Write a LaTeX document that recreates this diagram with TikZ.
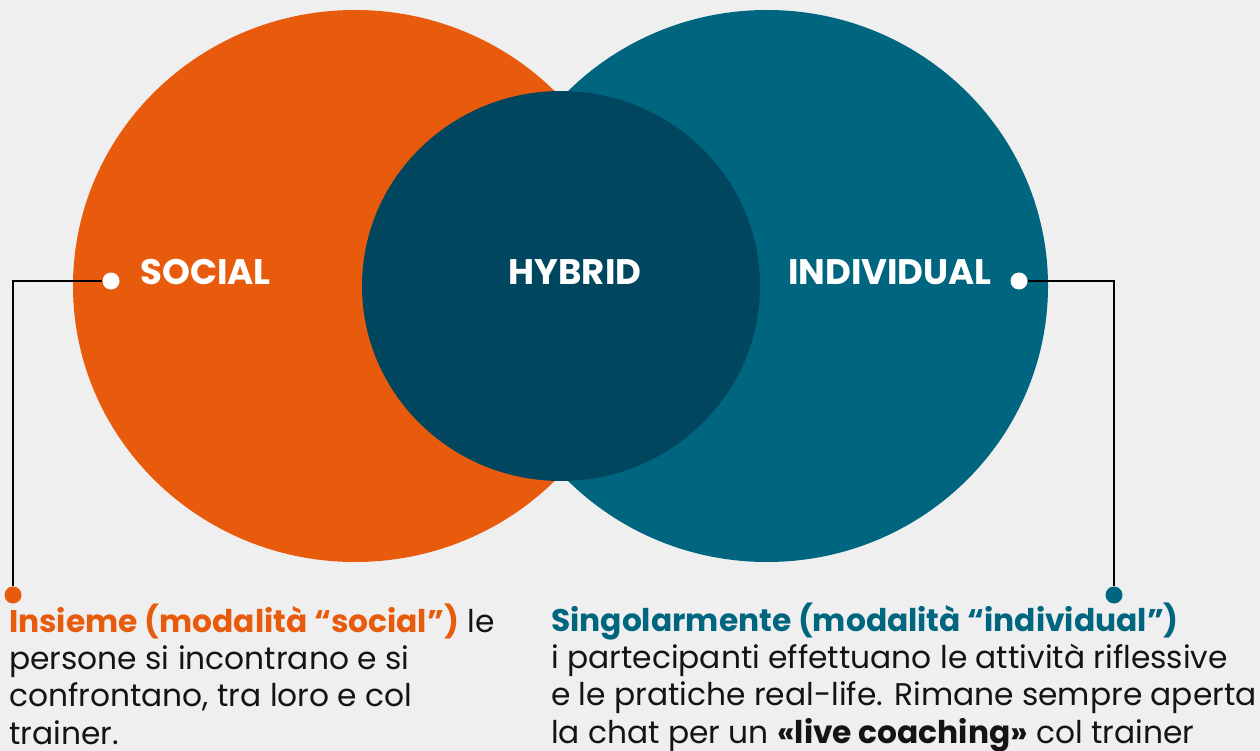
\documentclass[tikz,border=0pt]{standalone}
\usepackage{fontspec}
\setmainfont{Poppins}
\usetikzlibrary{positioning}
\usetikzlibrary{shapes.geometric}

\definecolor{socialorange}{HTML}{E95B0C}
\definecolor{indivteal}{HTML}{00667F}
\definecolor{hybridblue}{HTML}{00465F}
\definecolor{bggray}{HTML}{EFEFEF}
\definecolor{bodyblack}{HTML}{141414}

\tikzset{
  blob/.style={ellipse, inner sep=0pt, draw=none},
  tag/.style={text=white, font=\fontsize{35.5}{35.5}\selectfont\bfseries, inner sep=0pt, anchor=base},
  pin/.style={circle, inner sep=0pt, minimum size=17pt},
  leader/.style={black, line width=1.6pt},
  blurb/.style={text=bodyblack, font=\fontsize{31.3}{37.3}\selectfont, align=left, inner sep=0pt, anchor=base west}
}

\begin{document}
\begin{tikzpicture}[x=1pt,y=-1pt]
\fill[bggray] (0,0) rectangle (1260,751);
\useasboundingbox (0,0) rectangle (1260,751);

% the three circles
\node[blob, fill=socialorange, minimum width=564pt, minimum height=552pt] (social) at (355,286) {};
\node[blob, fill=indivteal, minimum width=562pt, minimum height=552pt] (indiv) at (767,286) {};
\node[blob, fill=hybridblue, minimum width=398pt, minimum height=390pt] (hybrid) at (561,286) {};

\node[tag] (socialtag) at (205.5,284.5) {SOCIAL};
\node[tag] (hybridtag) at (575,284.5) {HYBRID};
\node[tag] (indivtag) at (890,284.5) {INDIVIDUAL};

% pins and leaders
\node[pin, fill=white] (spin) at (111,281) {};
\node[pin, fill=white] (ipin) at (1019,281) {};
\node[pin, fill=socialorange] (sfoot) at (13,595) {};
\node[pin, fill=indivteal] (ifoot) at (1114,595) {};
\draw[leader] (spin.west) -| (sfoot.north);
\draw[leader] (ipin.east) -| (ifoot.north);

% captions (anchored on the last line)
\node[blurb] (socialtext) at (9,744) {{\bfseries\color{socialorange}Insieme (modalità “social”)} le\\
persone si incontrano e si\\
confrontano, tra loro e col\\
trainer.};
\node[blurb] (indivtext) at (551,743) {{\bfseries\color{indivteal}Singolarmente (modalità “individual”)}\\
i partecipanti effettuano le attività riflessive\\
e le pratiche real-life. Rimane sempre aperta\\
la chat per un {\bfseries«live coaching»} col trainer};

\end{tikzpicture}
\end{document}
